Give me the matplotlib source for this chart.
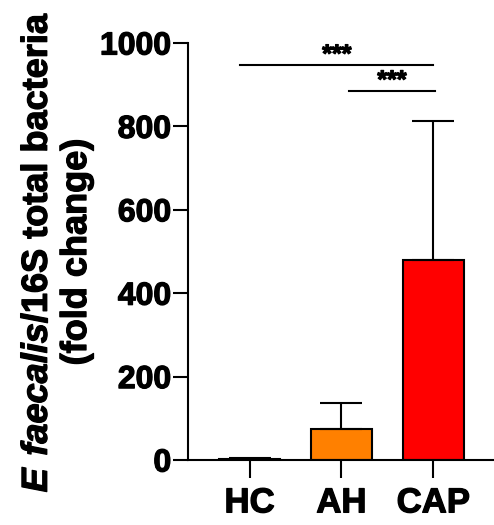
import matplotlib.pyplot as plt
import matplotlib.patheffects as pe

plt.rcParams['font.family'] = ['Liberation Sans', 'DejaVu Sans']
plt.rcParams['font.weight'] = 'bold'
plt.rcParams['mathtext.fontset'] = 'custom'
plt.rcParams['mathtext.bfit'] = 'Liberation Sans:italic:bold'
plt.rcParams['mathtext.rm'] = 'Liberation Sans:bold'

groups = ['HC', 'AH', 'CAP']
means = [2, 75, 480]
sem_up = [2, 62, 333]
colors = ['#ffffff', '#ff8000', '#ff0000']

# significance brackets: (x start, x end, height, label)
brackets = [(-0.1, 2.0, 947, '***'), (1.08, 2.02, 885, '***')]

heavy = [pe.withStroke(linewidth=0.9, foreground='black')]

fig = plt.figure(figsize=(4.94, 5.25), dpi=100)
ax = fig.add_axes([0.3806, 0.1238, 0.6194, 0.7943])

x = list(range(len(groups)))
ax.bar(x, means, width=0.67, color=colors, edgecolor='black', linewidth=1.5,
       yerr=[[0] * 3, sem_up], capsize=15,
       error_kw=dict(elinewidth=1.5, capthick=1.5, ecolor='black'))

for x0, x1, h, lab in brackets:
    ax.plot([x0, x1], [h, h], color='black', lw=1.5, clip_on=False)
    xc = 0.95 if x0 < 0 else 1.55
    ax.text(xc, h - 4, lab, ha='center', va='bottom', fontsize=18,
            fontweight='bold', path_effects=heavy)

ax.set_xlim(-0.67, 2.66)
ax.set_ylim(0, 1000)
ax.set_yticks([0, 200, 400, 600, 800, 1000])
ax.set_xticks(x)
ax.set_xticklabels(groups, fontsize=25, fontweight='bold')
ax.tick_params(axis='y', labelsize=23, width=1.5, length=11, pad=1)
ax.tick_params(axis='x', width=1.5, length=13, pad=6)
for lab in ax.get_yticklabels() + ax.get_xticklabels():
    lab.set_fontweight('bold')
    lab.set_path_effects(heavy)

ax.spines['top'].set_visible(False)
ax.spines['right'].set_visible(False)
ax.spines['left'].set_linewidth(1.5)
ax.spines['bottom'].set_linewidth(1.5)

fig.text(57 / 494, 1 - 252 / 525,
         r'$\mathbfit{E\ faecalis}$/16S total bacteria' + '\n(fold change)',
         rotation=90, ha='center', va='center', multialignment='center',
         fontsize=26, fontweight='bold', linespacing=1.15, path_effects=heavy)

plt.savefig('out.png', dpi=100)
